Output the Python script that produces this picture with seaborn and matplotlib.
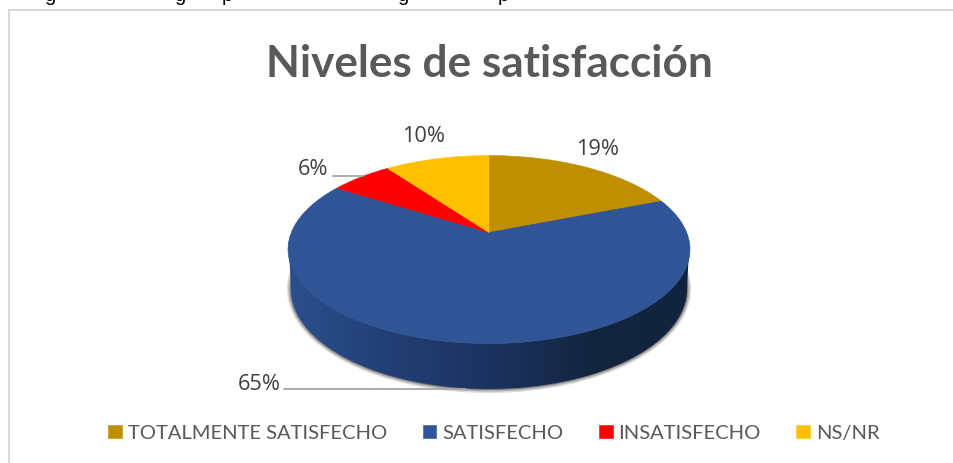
"""Niveles de satisfaccion - tilted pie chart with a side wall."""
import matplotlib
matplotlib.use('Agg')
import matplotlib.pyplot as plt
import numpy as np
import seaborn as sns
from matplotlib.patches import Ellipse, Polygon
from matplotlib.transforms import Transform

title = "Niveles de satisfacción"
categories = ["TOTALMENTE SATISFECHO", "SATISFECHO", "INSATISFECHO", "NS/NR"]
values = [19, 65, 6, 10]
slice_colors = ["#BF8F00", "#2F5597", "#FF0000", "#FFC000"]
wall_colors = ["#2B4F8C", "#223F74", "#1C3361", "#14253F", "#12233F"]

# only the descenders of the line above the chart survive the crop
cropped_letters = ["g", "g", "p", "g", "p"]
cropped_x = [50, 180, 227, 403, 503]

W, H = 954, 464
APEX_X, APEX_Y = 489, 233.5   # pixel position of the pie centre


class TiltTransform(Transform):
    """Unit circle -> pixel position on the tilted top face."""
    input_dims = 2
    output_dims = 2
    is_separable = False
    has_inverse = False

    def transform_non_affine(self, xy):
        xy = np.asarray(xy, dtype=float)
        d = 1 + 0.181 * xy[:, 1]
        return np.column_stack([APEX_X + 197.7 * xy[:, 0] / d,
                                APEX_Y - 90.9 * xy[:, 1] / d])


sns.set_theme(style="white")
plt.rcParams['font.family'] = ['Lato', 'DejaVu Sans']
palette = sns.color_palette(slice_colors)

fig, ax = plt.subplots(figsize=(W / 100, H / 100), dpi=100)
fig.subplots_adjust(left=0, right=1, top=1, bottom=0)

wedges, _ = ax.pie(values, colors=palette, startangle=90, counterclock=False,
                   wedgeprops={"linewidth": 0.4})
tilt = TiltTransform() + ax.transData
for w, c in zip(wedges, palette):
    w.set_transform(tilt)
    w.set_edgecolor(c)
    w.set_zorder(5)

ax.set_aspect('auto')
ax.set_xlim(0, W)
ax.set_ylim(H, 0)
ax.axis('off')

# soft shadow under the wall
for grow, alpha in [(4, 0.18), (2.5, 0.28), (1, 0.45)]:
    ax.add_patch(Ellipse((489, 290), 2 * (198 + grow), 2 * (100 + grow), lw=0,
                         fc="#3a3a3a", alpha=alpha, zorder=1))

# side wall: lower half of the top face joined to lower half of the bottom face
t = np.linspace(0, np.pi, 200)
upper = np.column_stack([489 + 200 * np.cos(t), 250.5 + 94 * np.sin(t)])
lower = np.column_stack([489 + 198 * np.cos(t[::-1]), 290 + 100 * np.sin(t[::-1])])
wall = Polygon(np.vstack([upper, lower]), closed=True, fc="none", lw=0, zorder=2)
ax.add_patch(wall)
cmap = sns.blend_palette(wall_colors, n_colors=256, as_cmap=True)
img = ax.imshow(np.linspace(0, 1, 256)[None, :], cmap=cmap, aspect='auto',
                extent=(289, 689, 392, 248), zorder=2)
img.set_clip_path(wall)
ax.set_xlim(0, W)
ax.set_ylim(H, 0)

# chart frame, only left and top edges are in the crop
ax.plot([9, 9, W], [H, 11, 11], color="#D9D9D9", lw=1.5, solid_joinstyle='miter', zorder=0)

# leader lines
ax.plot([333, 363], [177, 177], color="#A6A6A6", lw=1.3, zorder=6)
ax.plot([284, 465], [390, 390], color="#A6A6A6", lw=1.3, zorder=6)

ax.text(489, 64, title, ha='center', va='center', fontsize=31.8, fontweight='bold',
        color="#595959")

label_pos = [(598, 150), (259, 385), (313, 170), (424, 137)]
for v, (lx, ly) in zip(values, label_pos):
    ax.text(lx, ly, f"{v}%", ha='center', va='center', fontsize=15.7, color="#404040",
            family=['Open Sans', 'DejaVu Sans'])

for ch, cx in zip(cropped_letters, cropped_x):
    ax.text(cx, 1, ch, ha='center', va='baseline', fontsize=14.5, color="black",
            family=['Liberation Sans', 'DejaVu Sans'])

ax.legend(wedges, categories, loc='center', bbox_to_anchor=(494, 434),
          bbox_transform=ax.transData, ncol=4, frameon=False, fontsize=14.5,
          labelcolor="#595959", handlelength=0.68, handleheight=0.68,
          handletextpad=0.3, columnspacing=1.75)

fig.savefig("out.png", dpi=100, facecolor="white")
